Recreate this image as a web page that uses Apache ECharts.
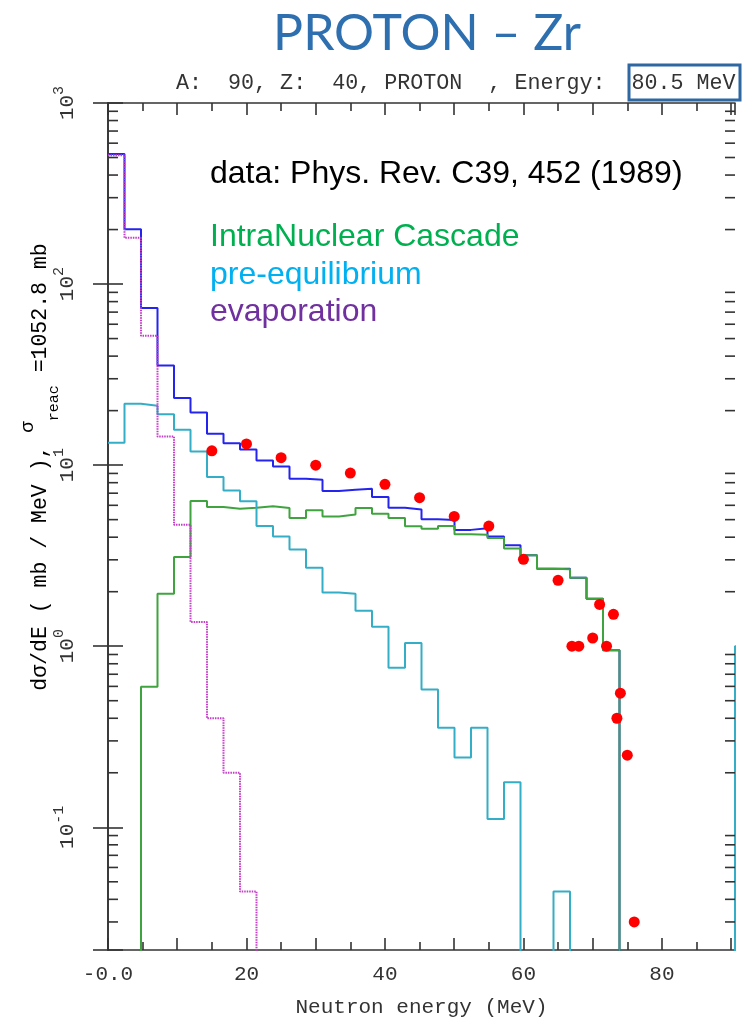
<!DOCTYPE html>
<html>
<head>
<meta charset="utf-8">
<script src="https://cdn.jsdelivr.net/npm/echarts@6/dist/echarts.min.js"></script>
<style>
  html, body { margin: 0; padding: 0; background: #ffffff; }
  #chart { width: 749px; height: 1023px; }
</style>
</head>
<body>
<div id="chart"></div>
<script>
// Histogram binning (MeV) and visible ranges
const BIN_WIDTH = 2.383;
const X_MIN = 0;
const X_MAX = 38 * BIN_WIDTH;
const Y_MIN = 0.021;
const Y_MAX = 1000;
const EMPTY_LEVEL = 1e-4; // empty bins sit below the visible range

// dσ/dE per bin (mb/MeV), bin i spans [i*BIN_WIDTH, (i+1)*BIN_WIDTH]
const totalValues = [522, 201, 73.8, 35.5, 23.5, 19.5, 14.9, 13.2, 12.2, 10.6, 9.84, 8.41, 8.31, 7.20, 7.32, 7.41,
  6.67, 5.82, 5.68, 5.02, 4.98, 4.39, 4.48, 4.03, 3.61, 3.18, 2.68, 2.68, 2.39, 1.83, 0.95, 0];
const cascadeValues = [0, 0, 0.597, 1.95, 3.11, 6.34, 5.87, 5.75, 5.82, 5.92, 5.80, 5.11, 5.63, 5.21, 5.33, 5.80,
  5.39, 5.11, 4.59, 4.46, 4.61, 4.15, 4.13, 3.96, 3.46, 3.18, 2.68, 2.66, 2.39, 1.83, 0.95, 0];
const preEquilibriumValues = [13.3, 21.8, 21.3, 19.1, 15.7, 11.9, 8.60, 7.25, 6.31, 4.61, 4.04, 3.42, 2.71, 1.98,
  1.95, 1.57, 1.28, 0.760, 1.04, 0.577, 0.355, 0.243, 0.355, 0.111, 0.177, 0, 0, 0.0442,
  0, 0, 0, 0, 0, 0, 0, 0, 0, 0, 1.0];
const evaporationValues = [515, 180, 51.9, 14.4, 4.69, 1.36, 0.40, 0.200, 0.0442, 0];

// Measured spectrum, Phys. Rev. C39, 452 (1989)
const dataEnergy = [15, 20, 25, 30, 35, 40, 45, 50, 55, 60, 65, 67, 68, 70, 71, 72, 73, 73.5, 74, 75, 76];
const dataSigma = [12.0, 13.1, 11.0, 10.0, 9.04, 7.83, 6.61, 5.21, 4.61, 3.02, 2.31, 1.00, 1.00, 1.11, 1.70,
  1.00, 1.50, 0.40, 0.55, 0.25, 0.030];

// Axis tick labels
const xLabelValues = [0, 20, 40, 60, 80];
const xLabelTexts = ['-0.0', '20', '40', '60', '80'];
const yLabelExponents = [-1, 0, 1, 2, 3];
const minorMultiples = [2, 3, 4, 5, 6, 7, 8, 9];
const minorDecades = [-2, -1, 0, 1, 2];

const AXIS_COLOR = '#333333';
const AXIS_FONT = '"Liberation Mono", "DejaVu Sans Mono", monospace';
const NOTE_FONT = '32px "Liberation Sans", Arial, sans-serif';

function stepPoints(values) {
  const pts = values.map((v, i) => [i * BIN_WIDTH, v > 0 ? v : EMPTY_LEVEL]);
  const last = values[values.length - 1];
  pts.push([values.length * BIN_WIDTH, last > 0 ? last : EMPTY_LEVEL]);
  return pts;
}

const minorTickValues = [];
minorDecades.forEach(d => minorMultiples.forEach(m => {
  const v = m * Math.pow(10, d);
  if (v > Y_MIN && v < Y_MAX) minorTickValues.push(v);
}));

function xLabel(v) {
  const i = xLabelValues.findIndex(x => Math.abs(x - v) < 1e-6);
  return i >= 0 ? xLabelTexts[i] : '';
}
function yLabel(v) {
  const e = Math.log10(v);
  const i = yLabelExponents.findIndex(x => Math.abs(x - e) < 1e-6);
  return i >= 0 ? '{b|10}{s|' + yLabelExponents[i] + '}' : '';
}

const frameLine = { show: true, lineStyle: { color: AXIS_COLOR, width: 1.6 } };
const xTick = { show: true, inside: true, length: 12, lineStyle: { color: AXIS_COLOR, width: 1.6 } };
const xMinor = { show: true, splitNumber: 2, length: 8, lineStyle: { color: AXIS_COLOR, width: 1.6 } };
const yTick = { show: true, inside: true, length: 15, lineStyle: { color: AXIS_COLOR, width: 1.6 } };

function histSeries(name, values, color, width, type, z) {
  return {
    name, type: 'line', step: 'end', data: stepPoints(values),
    showSymbol: false, symbol: 'none', clip: true, z,
    lineStyle: { color, width, type }
  };
}

const chart = echarts.init(document.getElementById('chart'), null, { renderer: 'canvas' });

chart.setOption({
  animation: false,
  backgroundColor: '#ffffff',
  grid: { left: 108, right: 14, top: 103, bottom: 72, containLabel: false },
  xAxis: [
    {
      type: 'value', min: X_MIN, max: X_MAX, interval: 10, position: 'bottom',
      axisLine: frameLine, axisTick: xTick, minorTick: xMinor,
      splitLine: { show: false },
      axisLabel: { formatter: xLabel, margin: 14, fontFamily: AXIS_FONT, fontSize: 21, color: AXIS_COLOR },
      name: 'Neutron energy (MeV)', nameLocation: 'middle', nameGap: 47,
      nameTextStyle: { fontFamily: AXIS_FONT, fontSize: 21, color: AXIS_COLOR }
    },
    {
      type: 'value', min: X_MIN, max: X_MAX, interval: 10, position: 'top',
      axisLine: frameLine, axisTick: xTick, minorTick: xMinor,
      splitLine: { show: false }, axisLabel: { show: false }
    }
  ],
  yAxis: [
    {
      type: 'log', logBase: 10, min: Y_MIN, max: Y_MAX, position: 'left',
      axisLine: frameLine, axisTick: yTick, splitLine: { show: false },
      axisLabel: {
        formatter: yLabel, rotate: 90, margin: 30, color: AXIS_COLOR,
        rich: {
          b: { fontFamily: AXIS_FONT, fontSize: 21, color: AXIS_COLOR, lineHeight: 26, verticalAlign: 'bottom' },
          s: { fontFamily: AXIS_FONT, fontSize: 15, color: AXIS_COLOR, lineHeight: 14, verticalAlign: 'top' }
        }
      }
    },
    {
      type: 'log', logBase: 10, min: Y_MIN, max: Y_MAX, position: 'right',
      axisLine: frameLine, axisTick: yTick, splitLine: { show: false },
      axisLabel: { show: false }
    }
  ],
  series: [
    {
      type: 'custom', coordinateSystem: 'cartesian2d', silent: true, clip: false, z: 6,
      data: minorTickValues.map(v => [X_MIN, v]),
      renderItem(params, api) {
        const v = api.value(1);
        const l = api.coord([X_MIN, v]);
        const r = api.coord([X_MAX, v]);
        const st = { stroke: AXIS_COLOR, lineWidth: 1.6 };
        return {
          type: 'group',
          children: [
            { type: 'line', shape: { x1: l[0], y1: l[1], x2: l[0] + 10, y2: l[1] }, style: st },
            { type: 'line', shape: { x1: r[0] - 10, y1: r[1], x2: r[0], y2: r[1] }, style: st }
          ]
        };
      }
    },
    histSeries('total', totalValues, '#2424EE', 2, 'solid', 2),
    histSeries('IntraNuclear Cascade', cascadeValues, '#3FA43F', 2, 'solid', 3),
    histSeries('pre-equilibrium', preEquilibriumValues, '#34AEC6', 2, 'solid', 3),
    histSeries('evaporation', evaporationValues, '#C43CC8', 2, [1.5, 1], 4),
    {
      name: 'data', type: 'scatter', z: 5,
      data: dataEnergy.map((e, i) => [e, dataSigma[i]]),
      symbol: 'circle', symbolSize: 11,
      itemStyle: { color: '#FF0000', opacity: 1 }
    }
  ],
  graphic: [
    {
      type: 'text', x: 427, y: 34,
      style: { text: 'PROTON – Zr', font: '50px Lato, "Open Sans", sans-serif', fill: '#2E6FB0',
        align: 'center', verticalAlign: 'middle' }
    },
    {
      type: 'text', x: 176, y: 83,
      style: {
        text: 'A:  90, Z:  40, PROTON  , Energy:  80.5 MeV',
        font: '21.7px ' + AXIS_FONT, fill: AXIS_COLOR, verticalAlign: 'middle', align: 'left'
      }
    },
    {
      type: 'rect', shape: { x: 629, y: 65, width: 111, height: 35 },
      style: { fill: 'none', stroke: '#2F67A3', lineWidth: 3 }
    },
    {
      type: 'text', x: 210, y: 174,
      style: { text: 'data: Phys. Rev. C39, 452 (1989)', font: NOTE_FONT, fill: '#000000', verticalAlign: 'middle' }
    },
    {
      type: 'text', x: 210, y: 237,
      style: { text: 'IntraNuclear Cascade', font: NOTE_FONT, fill: '#00B050', verticalAlign: 'middle' }
    },
    {
      type: 'text', x: 210, y: 275.5,
      style: { text: 'pre-equilibrium', font: NOTE_FONT, fill: '#00B0F0', verticalAlign: 'middle' }
    },
    {
      type: 'text', x: 210, y: 312.5,
      style: { text: 'evaporation', font: NOTE_FONT, fill: '#7030A0', verticalAlign: 'middle' }
    },
    {
      type: 'text', x: 40, y: 467, rotation: Math.PI / 2,
      style: {
        text: '{m|dσ/dE ( mb / MeV ), }{g|σ}{r|reac}{m| =1052.8 mb}',
        align: 'center', verticalAlign: 'middle',
        rich: {
          m: { fontFamily: AXIS_FONT, fontSize: 21.5, color: AXIS_COLOR, lineHeight: 44 },
          g: { fontFamily: AXIS_FONT, fontSize: 19, color: AXIS_COLOR, lineHeight: 22, verticalAlign: 'top' },
          r: { fontFamily: AXIS_FONT, fontSize: 15, color: AXIS_COLOR, lineHeight: 8, verticalAlign: 'bottom' }
        }
      }
    }
  ]
});
</script>
</body>
</html>
